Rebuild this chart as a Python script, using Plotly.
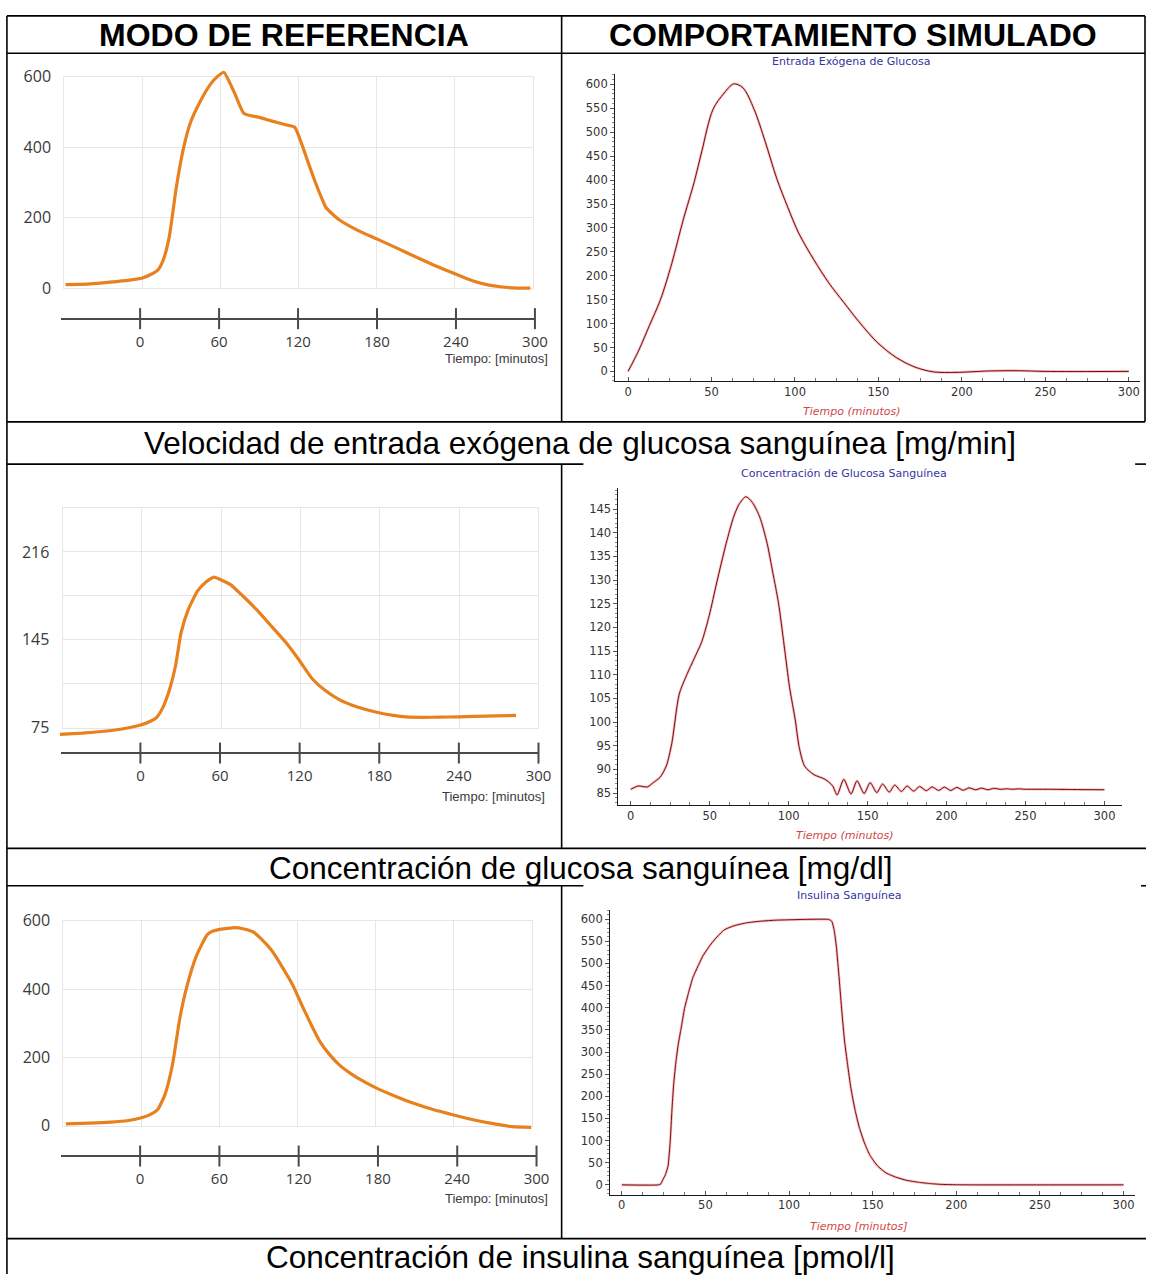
import plotly.graph_objects as go

# ---------------------------------------------------------------- data
# Reference mode (left column), time in minutes
ref_input_t = [-59, -40, -25, -10, 0, 6, 12, 16, 20.6, 26, 31.5, 37, 44.5, 52.5, 58, 62.5,
               70.8, 78, 90, 99, 110, 117, 122.7, 127, 132.6, 137, 141, 147, 152, 165, 180,
               196, 211, 226, 240.6, 253, 264.4, 275, 284, 298]
ref_input_v = [10, 12, 17, 23, 29, 38, 52, 80, 145, 285, 396, 471, 531, 580, 602, 613,
               554, 496, 485, 475, 464, 457, 406, 360, 303, 262, 229, 207, 192, 165, 140,
               113, 87, 62, 40, 22, 10, 4, 1, 0]

ref_glucose_t = [-62, -45, -32.6, -15, -1, 6, 11, 15.8, 21.3, 25.5, 29.6, 35.2, 42, 48, 54.5,
                 60, 67, 76, 86.4, 97, 108.5, 119, 129, 139, 150, 163, 177.6, 190, 200, 212,
                 225, 240, 252, 268, 283]
ref_glucose_v = [69.5, 70.5, 71.6, 73.8, 77, 79.8, 83, 91, 107, 125, 151, 170, 184.5, 191.5,
                 195.8, 193.5, 189.8, 181, 170, 157.5, 143.8, 129, 114, 104.5, 97, 91.5, 87.3,
                 84.8, 83.5, 83.2, 83.3, 83.6, 84, 84.4, 84.7]

ref_insulin_t = [-58, -40, -23.8, -10, 0, 7, 12.7, 18.3, 23.9, 29.5, 35.1, 42.1, 50.5, 55, 60.4,
                 66, 71.6, 78, 85.6, 92, 99.7, 108, 116.5, 123, 130.5, 137, 144.6, 152, 161.4,
                 170, 181, 195, 208.5, 224, 239.9, 254, 268, 276, 284.8, 299.4]
ref_insulin_v = [5, 7, 10, 15, 23, 33, 48, 93, 179, 314, 410, 496, 559, 570, 575,
                 578, 580, 577, 568, 547, 515, 466, 410, 355, 295, 247, 208, 178, 151,
                 131, 109, 86, 66, 47, 31, 18, 7, 2, -3, -5]

# Simulated behaviour (right column)
sim_input_t = [0, 6, 12.8, 19.5, 26.2, 32.9, 39.7, 44.1, 50.9, 57.6, 63.2, 68.8, 75.5, 82.2, 89,
               95.7, 102.4, 111.4, 120.3, 129.3, 138.3, 149.5, 160.7, 171.9, 183, 196.5, 216.6,
               234.6, 250, 300]
sim_input_v = [0, 41, 96, 151, 226, 315, 397, 459, 548, 582, 601, 593, 548, 480, 404,
               343, 288, 233, 185, 144, 104, 60, 29, 9, -1, -2, 1,
               1.5, 0, 0]

sim_glucose_t = [0, 4.7, 10.6, 14.2, 18.5, 22.5, 26, 30.7, 35.5, 40.3,
                 45, 49.7, 54.4, 60.4, 65.1, 68.6, 72.9, 77, 81.7, 86.4,
                 90, 93.5, 97.1, 100.6, 104.2, 106.6, 110.1, 116, 123.1, 127.9,
                 130.7, 134.9, 139.5, 143.3, 147.8, 151.6, 155.8, 159.5, 163.7, 167.2,
                 171.4, 175, 179.2, 182.9, 187.1, 190.9, 195, 198.6, 202.7, 206.5,
                 210.5, 214.2, 218.4, 222.2, 226.3, 229.9, 234.1, 238.2, 241.8, 245.5,
                 249.7, 253.9, 265, 280, 300]
sim_glucose_v = [85.8, 86.5, 86.3, 87.2, 88.3, 90.7, 95.5, 105.9, 110, 113.5,
                 117, 122.5, 129.4, 137.7, 143.3, 146, 147.6, 146.4, 143.3, 137.7,
                 131.5, 125.3, 116.3, 107.3, 100.4, 94.8, 90.7, 88.9, 87.9, 86.5,
                 84.6, 87.9, 84.8, 87.6, 84.9, 87.2, 85.1, 86.9, 85.2, 86.7,
                 85.35, 86.5, 85.4, 86.4, 85.5, 86.3, 85.55, 86.25, 85.55, 86.2,
                 85.6, 86.1, 85.7, 86.05, 85.7, 86.0, 85.8, 85.9, 85.8, 85.9,
                 85.8, 85.8, 85.8, 85.75, 85.7]

sim_insulin_t = [0, 22.1, 23.5, 24.3, 26, 27.7, 29, 30, 31, 32.2, 33.8, 35.5, 37.5, 40, 42.5,
                 45.6, 48.5, 52.3, 56, 61.2, 67, 74.7, 83, 92.6, 110, 123.8, 125.6, 127,
                 128.3, 130, 131.6, 133.2, 135, 137, 139.5, 142, 145.1, 148.5, 152.9, 158,
                 164.1, 170, 177.5, 184, 190.9, 200, 210, 300]
sim_insulin_v = [0, 0, 3, 9.6, 22, 42.9, 100, 168.7, 225, 272, 318, 353.6, 398, 435, 468,
                 494, 517, 538.5, 556, 575.6, 585, 591.8, 595.5, 597.8, 599.5, 599.5, 595, 575,
                 538.5, 465, 390.6, 325, 272, 218, 168.7, 130, 94.6, 66, 42.9, 27,
                 17, 10.5, 5.8, 3, 1, 0.3, 0, 0]

time_ticks = [0, 60, 120, 180, 240, 300]
ref_y_ticks = [
    ([0, 200, 400, 600], ["0", "200", "400", "600"]),
    ([75, 110.25, 145.5, 180.75, 216, 251.25], ["75", "", "145", "", "216", ""]),
    ([0, 200, 400, 600], ["0", "200", "400", "600"]),
]

headers = ["MODO DE REFERENCIA", "COMPORTAMIENTO SIMULADO"]
captions = ["Velocidad de entrada exógena de glucosa sanguínea [mg/min]",
            "Concentración de glucosa sanguínea [mg/dl]",
            "Concentración de insulina sanguínea [pmol/l]"]
sim_titles = ["Entrada Exógena de Glucosa", "Concentración de Glucosa Sanguínea",
              "Insulina Sanguínea"]
sim_xtitles = ["Tiempo (minutos)", "Tiempo (minutos)", "Tiempo [minutos]"]
ref_xtitle = "Tiempo: [minutos]"

# ---------------------------------------------------------------- layout helpers
W, H = 1159, 1285
ORANGE = "#e8801e"
GRID = "#e6e6e6"
LEFT_FONT = "Open Sans"
SIM_FONT = "DejaVu Sans"


def xdom(pa, va, pb, vb, lo, hi):
    s = (pb - pa) / (vb - va)
    return [(pa + (lo - va) * s) / W, (pa + (hi - va) * s) / W]


def ydom(pa, va, pb, vb, lo, hi):
    s = (pb - pa) / (vb - va)
    p_lo = pa + (lo - va) * s
    p_hi = pa + (hi - va) * s
    return [1 - p_lo / H, 1 - p_hi / H]


fig = go.Figure()
layout = {}
axis_count = [0]


def new_axes(xa, ya):
    axis_count[0] += 1
    k = axis_count[0]
    sx = "" if k == 1 else str(k)
    xa["anchor"] = "y" + sx
    ya["anchor"] = "x" + sx
    layout["xaxis" + sx] = xa
    layout["yaxis" + sx] = ya
    return "x" + sx, "y" + sx


hidden = dict(showgrid=False, zeroline=False, showticklabels=False, showline=False,
              ticks="", fixedrange=True)

# left column geometry in page pixels
ref_geom = [
    dict(x=(65, 539), y=((282, 0), (67, 600)), grid_y=[0, 600], curve_y=[-20, 640],
         axis_y=313, axis_x=((141.7, 0), (541, 300)), xtitle=(556, 354)),
    dict(x=(63.3, 544.6), y=((729, 75), (505.7, 251.25)), grid_y=[75, 251.25],
         curve_y=[60, 262], axis_y=755, axis_x=((142, 0), (544.6, 300)), xtitle=(553, 799)),
    dict(x=(64, 538), y=((1134, 0), (925.7, 600)), grid_y=[0, 600], curve_y=[-20, 640],
         axis_y=1165, axis_x=((141.7, 0), (542.6, 300)), xtitle=(556, 1208)),
]
ref_series = [(ref_input_t, ref_input_v), (ref_glucose_t, ref_glucose_v),
              (ref_insulin_t, ref_insulin_v)]

annotations = []

for g, (ts, vs), (tv, tt) in zip(ref_geom, ref_series, ref_y_ticks):
    (xa_p, xb_p) = g["x"]
    (ya_p, ya_v), (yb_p, yb_v) = g["y"]
    # grid panel
    xa = dict(domain=xdom(xa_p, -60, xb_p, 300, -60, 300), range=[-60, 300],
              tickvals=[-60] + time_ticks, showticklabels=False, ticks="",
              showgrid=True, gridcolor=GRID, gridwidth=1, zeroline=False,
              showline=True, linecolor=GRID, mirror=True, fixedrange=True)
    ya = dict(domain=ydom(ya_p, ya_v, yb_p, yb_v, *g["grid_y"]), range=g["grid_y"],
              tickvals=tv, ticktext=tt, showgrid=True, gridcolor=GRID, gridwidth=1,
              zeroline=False, showline=True, linecolor=GRID, mirror=True,
              ticks="outside", ticklen=9, tickcolor="rgba(0,0,0,0)",
              tickfont=dict(family=LEFT_FONT, size=16, color="#3a3a3a"), fixedrange=True)
    xr, yr = new_axes(xa, ya)
    fig.add_trace(go.Scatter(x=[], y=[], xaxis=xr, yaxis=yr, showlegend=False))

    # curve panel on the same scale, wider range so the line is not cut
    cx = [-72, 312]
    xa = dict(hidden, domain=xdom(xa_p, -60, xb_p, 300, *cx), range=cx)
    ya = dict(hidden, domain=ydom(ya_p, ya_v, yb_p, yb_v, *g["curve_y"]), range=g["curve_y"])
    xr, yr = new_axes(xa, ya)
    fig.add_trace(go.Scatter(x=ts, y=vs, mode="lines", xaxis=xr, yaxis=yr, showlegend=False,
                             line=dict(color=ORANGE, width=3.2, shape="spline", smoothing=0.5)))

    # detached time axis with crossing tick marks
    (pa, va), (pb, vb) = g["axis_x"]
    ay = g["axis_y"]
    xa = dict(domain=xdom(pa, va, pb, vb, -60, 300), range=[-60, 300],
              tickvals=time_ticks, ticktext=[str(t) for t in time_ticks],
              showgrid=False, zeroline=False, showline=False,
              ticks="outside", ticklen=1, tickcolor="rgba(0,0,0,0)",
              tickfont=dict(family=LEFT_FONT, size=15, color="#3a3a3a"), fixedrange=True)
    ya = dict(hidden, domain=[1 - (ay + 8) / H, 1 - (ay - 8) / H], range=[-1, 1],
              zeroline=True, zerolinecolor="#4a4a4a", zerolinewidth=2)
    xr, yr = new_axes(xa, ya)
    fig.add_trace(go.Scatter(x=time_ticks, y=[0] * len(time_ticks), mode="markers",
                             xaxis=xr, yaxis=yr, showlegend=False, cliponaxis=False,
                             marker=dict(symbol="line-ns", size=15,
                                         line=dict(color="#4a4a4a", width=2))))
    tx, ty = g["xtitle"]
    annotations.append(dict(text=ref_xtitle, x=tx / W, y=1 - ty / H, xref="paper", yref="paper",
                            xanchor="right", yanchor="middle", showarrow=False,
                            font=dict(family="Liberation Sans", size=13, color="#3a3a3a")))

# right column
sim_geom = [
    dict(x=((635.2, 0), (1141.6, 300)), xr=[-7.8, 307], y=((366.7, 0), (74.7, 600)),
         yr=[-21, 622], dy=50, title=(861, 51), xtitle=(862, 407)),
    dict(x=((637.9, 0), (1117, 300)), xr=[-7.8, 311], y=((795.7, 85), (506.7, 145)),
         yr=[82.5, 149.5], dy=5, title=(853.4, 471), xtitle=(855, 839)),
    dict(x=((628.8, 0), (1136.3, 300)), xr=[-7, 307], y=((1194.3, 0), (924, 600)),
         yr=[-21.8, 620], dy=50, title=(858.4, 900), xtitle=(868.6, 1237)),
]
sim_series = [(sim_input_t, sim_input_v), (sim_glucose_t, sim_glucose_v),
              (sim_insulin_t, sim_insulin_v)]
sim_smoothing = [0.9, 0.7, 0.4]

for g, (ts, vs), title, xt, sm in zip(sim_geom, sim_series, sim_titles, sim_xtitles,
                                      sim_smoothing):
    (pa, va), (pb, vb) = g["x"]
    (qa, wa), (qb, wb) = g["y"]
    tickfont = dict(family=SIM_FONT, size=11.5, color="#333333")
    xa = dict(domain=xdom(pa, va, pb, vb, *g["xr"]), range=g["xr"], dtick=50, tick0=0,
              showgrid=False, zeroline=False, showline=True, linecolor="#1a1a1a", linewidth=1,
              ticks="inside", ticklen=4, tickcolor="#555555", tickfont=tickfont,
              minor=dict(dtick=12.5, tick0=0, ticks="inside", ticklen=3, tickcolor="#777777"),
              fixedrange=True)
    ya = dict(domain=ydom(qa, wa, qb, wb, *g["yr"]), range=g["yr"], dtick=g["dy"], tick0=0,
              showgrid=False, zeroline=False, showline=True, linecolor="#1a1a1a", linewidth=1,
              ticks="outside", ticklen=4, tickcolor="#555555", tickfont=tickfont,
              minor=dict(dtick=g["dy"] / 5, ticks="outside", ticklen=2, tickcolor="#888888"),
              fixedrange=True)
    xr, yr = new_axes(xa, ya)
    fig.add_trace(go.Scatter(x=ts, y=vs, mode="lines", xaxis=xr, yaxis=yr, showlegend=False,
                             line=dict(color="rgba(235,120,120,0.5)", width=2.6,
                                       shape="spline", smoothing=sm)))
    fig.add_trace(go.Scatter(x=ts, y=vs, mode="lines", xaxis=xr, yaxis=yr, showlegend=False,
                             line=dict(color="#7a0c10", width=1, shape="spline", smoothing=sm)))
    cx, cy = g["title"]
    annotations.append(dict(text=title, x=cx / W, y=1 - cy / H, xref="paper", yref="paper",
                            xanchor="center", yanchor="middle", showarrow=False,
                            font=dict(family=SIM_FONT, size=11, color="#3535a0")))
    cx, cy = g["xtitle"]
    annotations.append(dict(text="<i>" + xt + "</i>", x=cx / W, y=1 - cy / H,
                            xref="paper", yref="paper", xanchor="center", yanchor="middle",
                            showarrow=False, font=dict(family=SIM_FONT, size=11, color="#d04848")))

# table headings and row captions
for text, cx in zip(headers, [287.5, 862.5]):
    annotations.append(dict(text="<b>" + text + "</b>", x=cx / W, y=1 - 24 / H,
                            xref="paper", yref="paper", xanchor="center", yanchor="middle",
                            showarrow=False,
                            font=dict(family="Liberation Sans", size=32, color="#000000")))
for text, cy in zip(captions, [440, 872, 1268]):
    annotations.append(dict(text=text, x=587 / W, y=1 - cy / H, xref="paper", yref="paper",
                            xanchor="center", yanchor="middle", showarrow=False,
                            font=dict(family="Liberation Sans", size=31.5, color="#000000")))

# table rules in pixel positions
table_lines = [
    (7, 5, 1158, 5), (7, 43, 1158, 43), (7, 418, 1158, 418),
    (7, 461, 590, 461), (1148, 461, 1159, 461),
    (7, 852, 1159, 852),
    (7, 890, 590, 890), (1154, 890, 1159, 890),
    (7, 1249, 1159, 1249),
    (7, 5, 7, 1285), (1158, 5, 1158, 418),
    (568, 5, 568, 418), (568, 461, 568, 852), (568, 890, 568, 1249),
]
shapes = [dict(type="line", xref="paper", yref="paper", x0=x0 / W, y0=1 - y0 / H,
               x1=x1 / W, y1=1 - y1 / H, line=dict(color="#000000", width=1.6), layer="above")
          for x0, y0, x1, y1 in table_lines]

fig.update_layout(
    width=W, height=H, margin=dict(l=0, r=0, t=0, b=0),
    paper_bgcolor="#ffffff", plot_bgcolor="rgba(0,0,0,0)",
    showlegend=False, hovermode=False,
    annotations=annotations, shapes=shapes,
    **layout,
)

fig.write_html("out.html", config={"displayModeBar": False})
